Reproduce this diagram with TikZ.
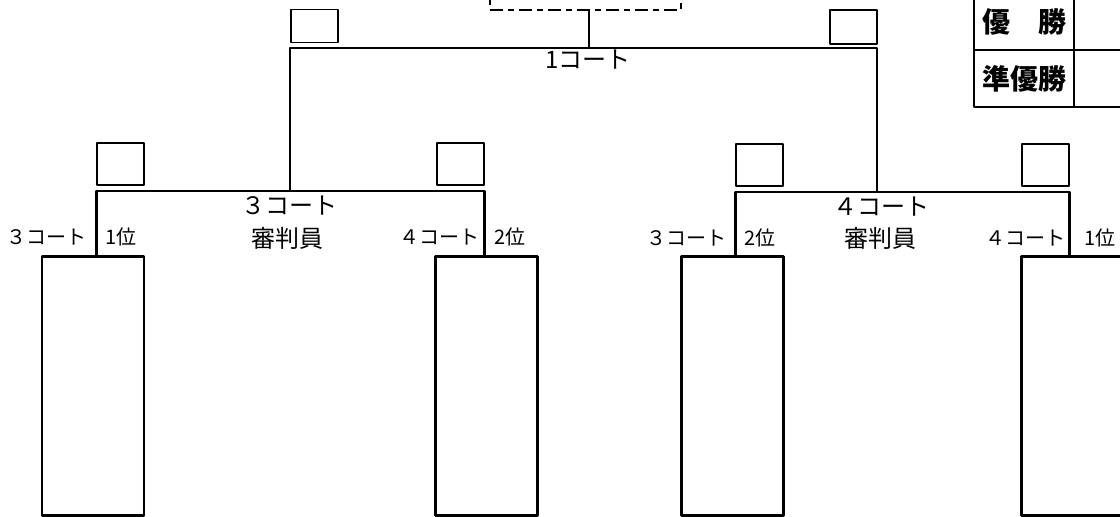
\documentclass[tikz,border=0pt]{standalone}
\usepackage{fontspec}
\newfontfamily\jpfont{Noto Sans CJK JP}
\begin{document}
\begin{tikzpicture}[x=1pt,y=-1pt,line join=round,font=\jpfont]
	\useasboundingbox (0,0) rectangle (1120,517);
	%%%%Kiểu
	\tikzset{doi/.style={draw,line width=2.4pt,minimum width=102pt,minimum height=259pt,inner sep=0pt},
		ovuong/.style={draw,line width=1.4pt,minimum width=47pt,minimum height=42pt,inner sep=0pt},
		nhanh/.style={line width=2.6pt},
		chunho/.style={font=\jpfont\fontsize{20}{22}\selectfont,inner sep=0pt},
		chulon/.style={font=\jpfont\fontsize{24}{26}\selectfont,inner sep=0pt},
		bang/.style={draw,line width=2pt,minimum width=100pt,minimum height=57pt,inner sep=0pt,font=\jpfont\bfseries\fontsize{28}{30}\selectfont}}
	%%%%Đội
	\node[doi] (d1) at (93,386) {};
	\node[doi] (d2) at (486.5,386) {};
	\node[doi] (d3) at (732.5,386) {};
	\node[doi] (d4) at (1072.5,386) {};
	%%%%Ô vuông
	\node[ovuong] (o1) at (120.5,164) {};
	\node[ovuong] (o2) at (460.5,164) {};
	\node[ovuong] (o3) at (759.5,165) {};
	\node[ovuong] (o4) at (1045.5,165) {};
	\node[ovuong,minimum height=33pt] (o5) at (314.5,26) {};
	\node[ovuong,minimum height=34pt] (o6) at (853.5,27) {};
	%%%%Chung kết
	\node[draw,line width=2.6pt,dash pattern=on 13pt off 5pt on 6pt off 5pt,minimum width=191pt,minimum height=50pt] (cuoi) at (585.5,-15) {};
	\coordinate (g1) at (589,48);
	\coordinate (g3) at (290,191);
	\coordinate (g4) at (877,192);
	%%%%Nhánh
	\draw[nhanh] (d1.north -| o1.west) |- (g3) -| (d2.north -| o2.east);
	\draw[nhanh] (d3.north -| o3.west) |- (g4) -| (d4.north -| o4.east);
	\draw[nhanh] (g3) |- (g1) -| (g4);
	\draw[line width=2pt] (cuoi.south -| g1) -- (g1);
	%%%%Chữ
	\node[chunho] (l1) at (46,237) {３コート};
	\node[chunho] (h1) at (121,237) {1位};
	\node[chulon] (s3) at (289,206) {３コート};
	\node[chulon] (t3) at (287,238) {審判員};
	\node[chunho] (l2) at (439,237) {４コート};
	\node[chunho] (h2) at (510,237) {2位};
	\node[chulon] (s1) at (588,60) {1コート};
	\node[chunho] (l3) at (686,238) {３コート};
	\node[chunho] (h3) at (760,238) {2位};
	\node[chulon] (s4) at (881,207) {４コート};
	\node[chulon] (t4) at (880,238) {審判員};
	\node[chunho] (l4) at (1025,238) {４コート};
	\node[chunho] (h4) at (1100,238) {1位};
	%%%%Bảng
	\node[bang] (vd) at (1024,21.5) {優　勝};
	\node[bang] (ad) at (1024,78.5) {準優勝};
	\node[bang] (vd2) at (1124,21.5) {};
	\node[bang] (ad2) at (1124,78.5) {};
\end{tikzpicture}
\end{document}
